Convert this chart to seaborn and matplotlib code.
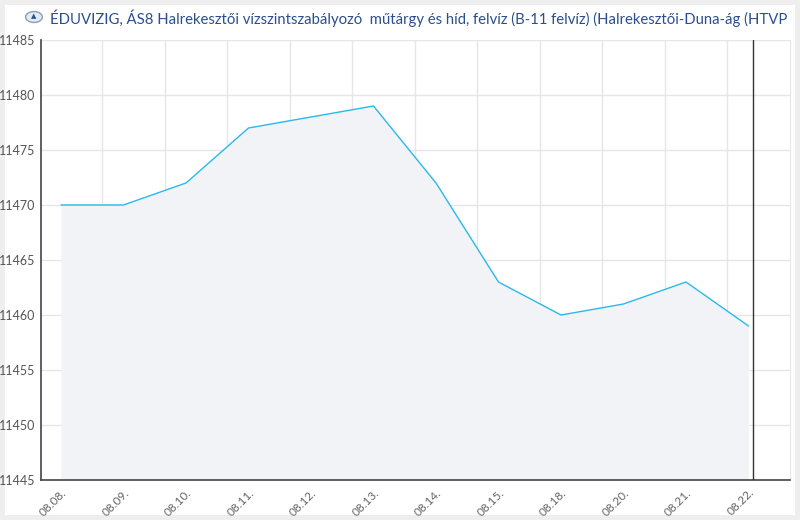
import numpy as np
import pandas as pd
import matplotlib
matplotlib.use("Agg")
import matplotlib.pyplot as plt
from matplotlib.patches import Rectangle, Circle
import seaborn as sns

dates = ["08.08.", "08.09.", "08.10.", "08.11.", "08.12.", "08.13.",
         "08.14.", "08.15.", "08.18.", "08.20.", "08.21.", "08.22."]
levels = [11470, 11470, 11472, 11477, 11478, 11479,
          11472, 11463, 11460, 11461, 11463, 11459]
title = ("ÉDUVIZIG, ÁS8 Halrekesztői vízszintszabályozó  műtárgy és híd, felvíz "
         "(B-11 felvíz) (Halrekesztői-Duna-ág (HTVP")

df = pd.DataFrame({"idx": range(len(dates)), "level": levels})

sns.set_style("white")
plt.rcParams["font.family"] = ["Lato", "DejaVu Sans"]

fig = plt.figure(figsize=(8, 5.2), dpi=100)
fig.patch.set_facecolor("#eeeeee")
panel = Rectangle((5 / 800, 5 / 520), 790 / 800, 510 / 520,
                  transform=fig.transFigure, facecolor="white",
                  edgecolor="none", zorder=-5)
fig.patches.append(panel)

ax = fig.add_axes([41 / 800, 40 / 520, 749 / 800, 440 / 520])
ax.set_zorder(2)
ax.set_facecolor("none")

ax.fill_between(df["idx"], df["level"], 11445, color="#f2f3f7", zorder=1, linewidth=0)
sns.lineplot(data=df, x="idx", y="level", ax=ax, color="#29b9ea",
             linewidth=1, zorder=3)

ax.set_xlim(-0.32, 11.664)
ax.set_ylim(11445, 11485)

# category labels at points, ticks and grid between them
ax.set_xticks(range(len(dates)))
ax.set_xticklabels(dates, rotation=45, ha="right", va="top",
                   rotation_mode="anchor", color="#666666", fontsize=8.5)
ax.set_xticks(np.arange(len(dates) - 1) + 0.656, minor=True)
ax.tick_params(axis="x", which="major", length=0, pad=5)
ax.tick_params(axis="x", which="minor", direction="in", length=5,
               width=1, color="#555555")
ax.grid(axis="x", which="minor", color="#e6e6e6", linewidth=1, zorder=0)

ax.set_yticks(range(11445, 11486, 5))
ax.tick_params(axis="y", direction="in", length=5, width=1, color="#555555",
               labelcolor="#555555", labelsize=9, pad=4)
ax.grid(axis="y", color="#e6e6e6", linewidth=1, zorder=0)
ax.set_axisbelow(True)

ax.axvline(11.07, color="#333333", linewidth=1, zorder=4)

ax.set_xlabel("")
ax.set_ylabel("")
for side in ["left", "bottom"]:
    ax.spines[side].set_color("#444444")
    ax.spines[side].set_linewidth(1.2)
ax.spines["top"].set_visible(False)
ax.spines["right"].set_color("#e6e6e6")

# title with small logo
logo = Circle((34 / 800, 1 - 17 / 520), 0.0105, transform=fig.transFigure,
              facecolor="#e4eaf2", edgecolor="#8a9dbb", linewidth=1, zorder=5)
fig.patches.append(logo)
fig.text(34 / 800, 1 - 16.5 / 520, "▲", color="#2a4d8f", fontsize=5,
         ha="center", va="center", family=["DejaVu Sans"], zorder=6)
t = fig.text(50 / 800, 1 - 18 / 520, title, color="#2b4f8e", fontsize=10.7,
             ha="left", va="center")
t.set_clip_path(panel)

fig.savefig("out.png", dpi=100, facecolor=fig.get_facecolor())
